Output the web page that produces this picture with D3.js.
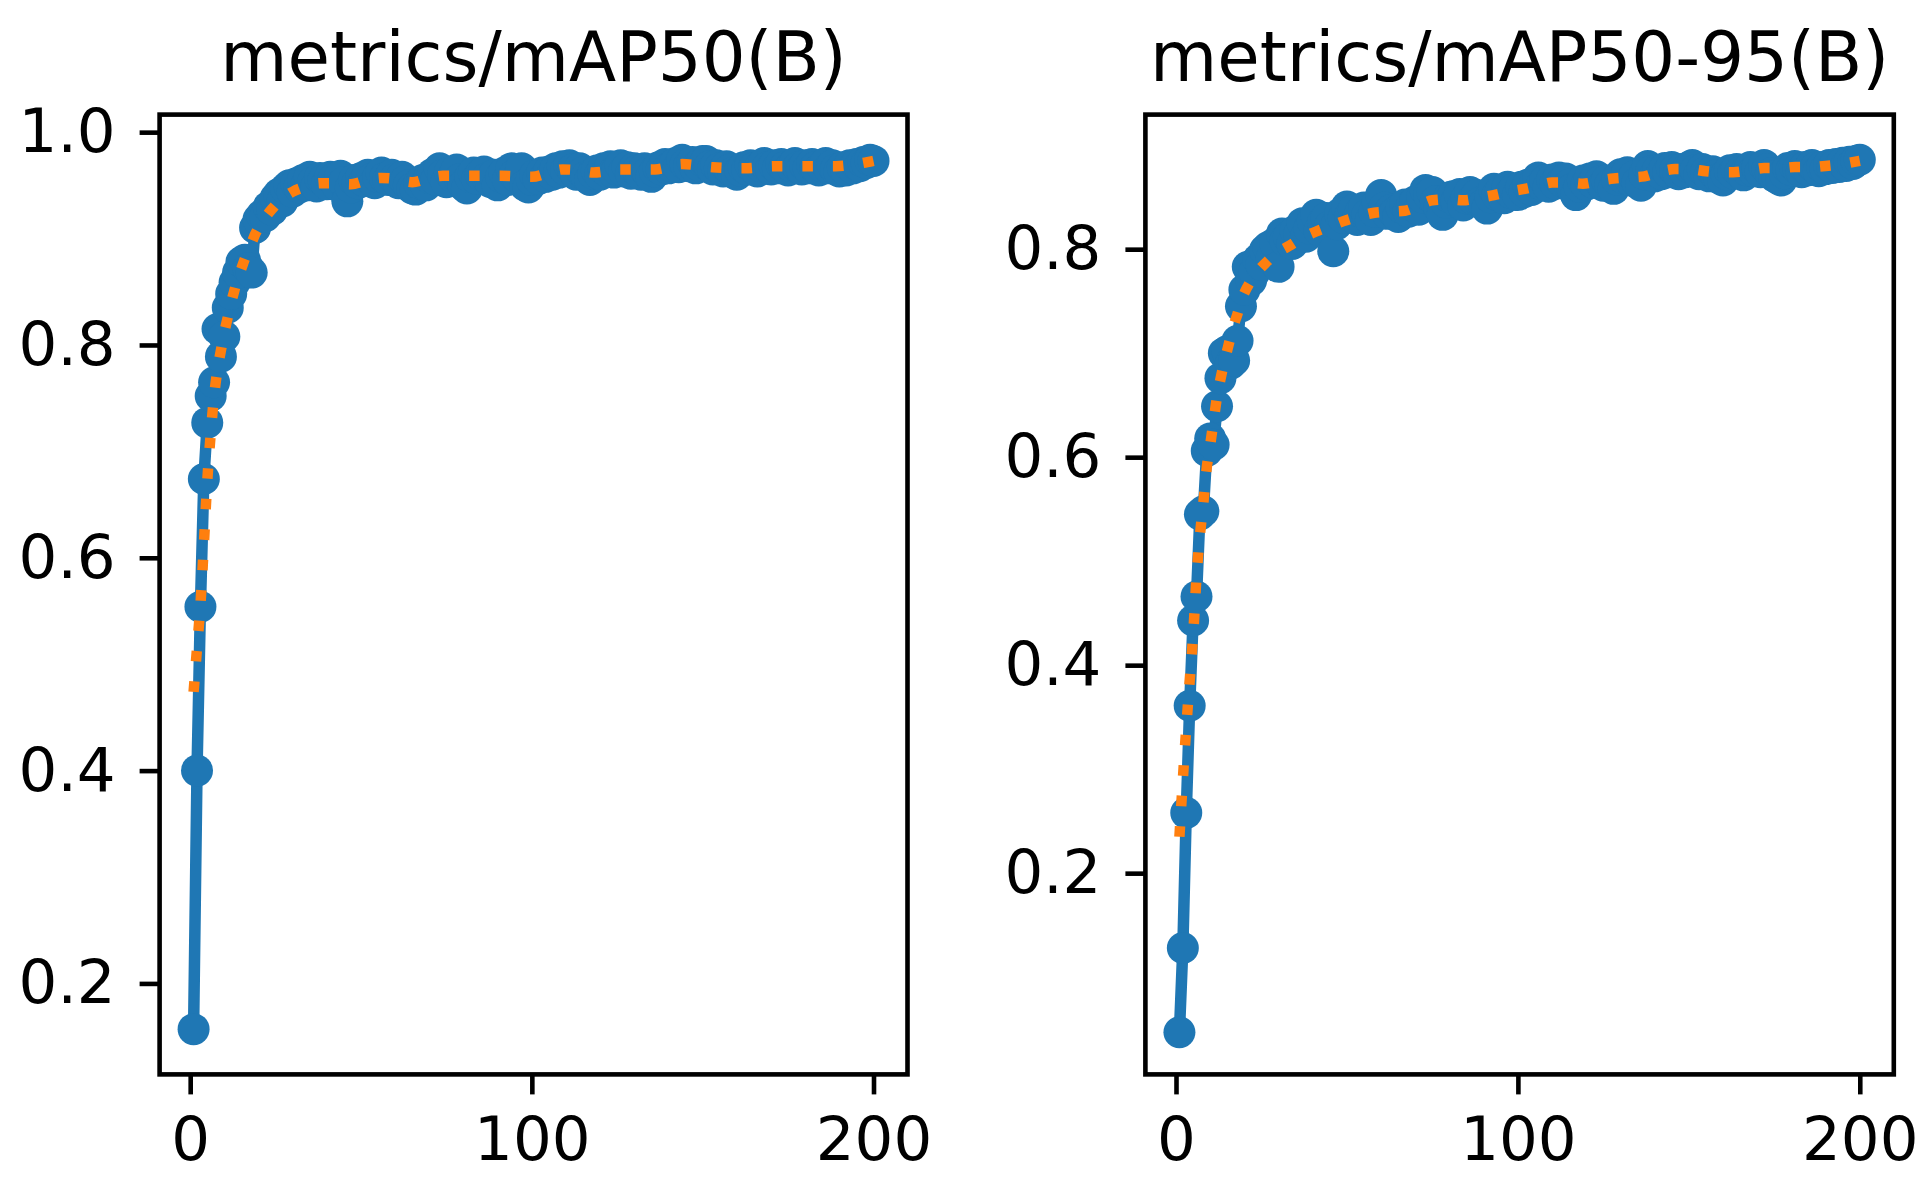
<!DOCTYPE html>
<html lang="en">
<head>
  <meta charset="UTF-8">
  <title>metrics</title>
  <style>
    body { margin: 0; background: #fff; }
    text { font-family: "DejaVu Sans", sans-serif; }
  </style>
</head>
<body>
  <div id="chart"></div>
  <script src="https://d3js.org/d3.v7.min.js"></script>
  <script>
    // epochs 1..200
    const epochs = d3.range(1, 201)

    // metrics/mAP50(B), raw per epoch
    const map50 = [
      0.157, 0.400, 0.554, 0.674, 0.727, 0.752, 0.765, 0.815, 0.789, 0.808,
      0.835, 0.848, 0.859, 0.868, 0.878, 0.880, 0.872, 0.868, 0.910, 0.918,
      0.922, 0.921, 0.930, 0.927, 0.938, 0.942, 0.935, 0.947, 0.950, 0.944,
      0.952, 0.948, 0.955, 0.950, 0.958, 0.953, 0.949, 0.957, 0.955, 0.951,
      0.958, 0.956, 0.950, 0.959, 0.953, 0.935, 0.948, 0.955, 0.952, 0.957,
      0.954, 0.960, 0.956, 0.952, 0.958, 0.962, 0.957, 0.955, 0.960, 0.956,
      0.952, 0.958, 0.954, 0.950, 0.947, 0.946, 0.952, 0.955, 0.950, 0.957,
      0.961, 0.955, 0.966, 0.960, 0.953, 0.962, 0.958, 0.965, 0.956, 0.950,
      0.947, 0.958, 0.962, 0.956, 0.960, 0.963, 0.957, 0.953, 0.960, 0.950,
      0.958, 0.962, 0.955, 0.966, 0.960, 0.957, 0.966, 0.950, 0.948, 0.955,
      0.960, 0.956, 0.962, 0.958, 0.963, 0.960, 0.966, 0.962, 0.968, 0.964,
      0.969, 0.965, 0.960, 0.966, 0.962, 0.958, 0.955, 0.961, 0.964, 0.960,
      0.966, 0.963, 0.968, 0.962, 0.965, 0.969, 0.963, 0.967, 0.961, 0.966,
      0.964, 0.960, 0.966, 0.962, 0.958, 0.963, 0.967, 0.965, 0.970, 0.966,
      0.968, 0.971, 0.967, 0.974, 0.970, 0.968, 0.972, 0.966, 0.969, 0.973,
      0.973, 0.968, 0.965, 0.969, 0.966, 0.963, 0.968, 0.965, 0.962, 0.960,
      0.964, 0.967, 0.965, 0.969, 0.966, 0.963, 0.968, 0.971, 0.967, 0.965,
      0.969, 0.966, 0.970, 0.967, 0.964, 0.968, 0.971, 0.967, 0.965, 0.969,
      0.966, 0.970, 0.967, 0.964, 0.968, 0.971, 0.966, 0.969, 0.965, 0.963,
      0.967, 0.964, 0.969, 0.966, 0.970, 0.968, 0.972, 0.971, 0.974, 0.973
    ]

    // metrics/mAP50-95(B), raw per epoch
    const map5095 = [
      0.047, 0.128, 0.258, 0.361, 0.443, 0.466, 0.545, 0.548, 0.606, 0.618,
      0.612, 0.649, 0.676, 0.700, 0.702, 0.690, 0.693, 0.712, 0.745, 0.761,
      0.783, 0.770, 0.778, 0.790, 0.785, 0.799, 0.802, 0.792, 0.806, 0.783,
      0.815, 0.808, 0.812, 0.805, 0.818, 0.814, 0.825, 0.812, 0.820, 0.827,
      0.833, 0.818, 0.826, 0.830, 0.822, 0.798, 0.824, 0.834, 0.830, 0.841,
      0.832, 0.838, 0.828, 0.836, 0.840, 0.833, 0.828, 0.836, 0.845, 0.852,
      0.840, 0.834, 0.838, 0.835, 0.831, 0.840, 0.843, 0.836, 0.842, 0.846,
      0.838, 0.850, 0.857, 0.852, 0.855, 0.846, 0.840, 0.833, 0.845, 0.850,
      0.851, 0.846, 0.853, 0.842, 0.849, 0.855, 0.848, 0.852, 0.845, 0.843,
      0.839, 0.850, 0.858, 0.852, 0.856, 0.849, 0.860, 0.854, 0.858, 0.852,
      0.860, 0.855, 0.862, 0.857, 0.864, 0.869, 0.862, 0.866, 0.860, 0.867,
      0.863, 0.869, 0.865, 0.868, 0.862, 0.858, 0.852, 0.860, 0.866, 0.862,
      0.868, 0.864, 0.870, 0.865, 0.861, 0.866, 0.862, 0.858, 0.867, 0.872,
      0.868, 0.874, 0.866, 0.870, 0.864, 0.861, 0.872, 0.880, 0.875, 0.870,
      0.876, 0.872, 0.878, 0.874, 0.879, 0.876, 0.872, 0.877, 0.874, 0.879,
      0.881, 0.876, 0.872, 0.877, 0.874, 0.870, 0.875, 0.871, 0.868, 0.866,
      0.872, 0.876, 0.873, 0.877, 0.874, 0.871, 0.876, 0.879, 0.875, 0.878,
      0.874, 0.881, 0.877, 0.873, 0.870, 0.868, 0.866, 0.873, 0.878, 0.876,
      0.880, 0.877, 0.874, 0.879, 0.876, 0.881, 0.878, 0.875, 0.879, 0.877,
      0.881, 0.878, 0.882, 0.879, 0.883, 0.880, 0.884, 0.882, 0.885, 0.886
    ]

    // smooth curves (read at these epochs)
    const smooth50Epochs = [1, 2, 3, 4, 5, 6, 7, 8, 9, 10, 11, 12, 13, 14, 15, 16, 17, 18, 19, 20, 22, 24, 26, 28, 30, 34, 38, 42, 47, 52, 56, 60, 65, 70, 74, 82, 91, 100, 105, 109, 114, 118, 126, 136, 144, 153, 162, 171, 180, 189, 195, 200]
    const smooth50 = [0.474, 0.515, 0.556, 0.612, 0.672, 0.716, 0.752, 0.777, 0.795, 0.812, 0.826, 0.840, 0.852, 0.864, 0.872, 0.881, 0.889, 0.896, 0.904, 0.910, 0.920, 0.928, 0.935, 0.940, 0.944, 0.949, 0.952, 0.952, 0.951, 0.955, 0.957, 0.956, 0.953, 0.957, 0.959, 0.959, 0.959, 0.958, 0.962, 0.965, 0.964, 0.962, 0.965, 0.965, 0.970, 0.967, 0.966, 0.968, 0.968, 0.968, 0.970, 0.973]

    const smooth5095Epochs = [1, 2, 3, 4, 5, 6, 7, 8, 9, 10, 11, 12, 13, 14, 15, 16, 17, 18, 19, 20, 22, 24, 26, 29, 33, 37, 41, 45, 49, 53, 58, 62, 67, 71, 75, 80, 84, 88, 93, 97, 102, 106, 110, 115, 119, 124, 128, 133, 137, 141, 146, 150, 155, 159, 163, 168, 172, 177, 181, 186, 190, 195, 200]
    const smooth5095 = [0.235, 0.290, 0.340, 0.385, 0.428, 0.485, 0.525, 0.556, 0.590, 0.612, 0.635, 0.658, 0.675, 0.690, 0.703, 0.716, 0.728, 0.738, 0.750, 0.758, 0.770, 0.779, 0.786, 0.795, 0.803, 0.811, 0.817, 0.822, 0.827, 0.831, 0.835, 0.836, 0.837, 0.842, 0.847, 0.848, 0.847, 0.849, 0.852, 0.855, 0.858, 0.861, 0.864, 0.864, 0.863, 0.866, 0.868, 0.869, 0.870, 0.874, 0.877, 0.877, 0.875, 0.874, 0.874, 0.876, 0.878, 0.878, 0.879, 0.879, 0.880, 0.882, 0.885]

    const xTicks = [0, 100, 200]
    const yTicks50 = [0.2, 0.4, 0.6, 0.8, 1.0]
    const yTicks5095 = [0.2, 0.4, 0.6, 0.8]

    const width = 1929
    const height = 1192
    const svg = d3.select('#chart').append('svg').attr('width', width).attr('height', height)
      .style('display', 'block')
    svg.append('rect').attr('width', width).attr('height', height).attr('fill', '#fff')

    const blue = '#1f77b4'
    const orange = '#ff7f0e'

    const panels = [
      { title: 'metrics/mAP50(B)', left: 159.6, right: 907.5, raw: map50, sx: smooth50Epochs, sy: smooth50, yDomain: [0.1145, 1.0165], yTicks: yTicks50 },
      { title: 'metrics/mAP50-95(B)', left: 1145.4, right: 1893.8, raw: map5095, sx: smooth5095Epochs, sy: smooth5095, yDomain: [0.0065, 0.9294], yTicks: yTicks5095 }
    ]
    const plotTop = 114.6
    const plotBottom = 1074.4

    panels.forEach((p, k) => {
      const x = d3.scaleLinear().domain([-8.95, 209.95]).range([p.left, p.right])
      const y = d3.scaleLinear().domain(p.yDomain).range([plotBottom, plotTop])
      const g = svg.append('g')

      const clipId = 'clip' + k
      g.append('clipPath').attr('id', clipId).append('rect')
        .attr('x', p.left).attr('y', plotTop).attr('width', p.right - p.left).attr('height', plotBottom - plotTop)

      const plot = g.append('g').attr('clip-path', `url(#${clipId})`)
      const line = d3.line().x((d, i) => x(epochs[i])).y(d => y(d))
      plot.append('path').datum(p.raw).attr('d', line)
        .attr('fill', 'none').attr('stroke', blue).attr('stroke-width', 11.5).attr('stroke-linejoin', 'round')
      plot.selectAll('circle').data(p.raw).enter().append('circle')
        .attr('cx', (d, i) => x(epochs[i])).attr('cy', d => y(d)).attr('r', 16).attr('fill', blue)

      const sLine = d3.line().x((d, i) => x(p.sx[i])).y(d => y(d)).curve(d3.curveMonotoneX)
      plot.append('path').datum(p.sy).attr('d', sLine)
        .attr('fill', 'none').attr('stroke', orange).attr('stroke-width', 10.5)
        .attr('stroke-dasharray', '10.5,20')

      const xAxis = d3.axisBottom(x).tickValues(xTicks).tickFormat(d3.format('d')).tickSize(20).tickPadding(22)
      const gx = g.append('g').attr('transform', `translate(0,${plotBottom})`).call(xAxis)
      const yAxis = d3.axisLeft(y).tickValues(p.yTicks).tickFormat(d3.format('.1f')).tickSize(20).tickPadding(24)
      const gy = g.append('g').attr('transform', `translate(${p.left},0)`).call(yAxis)
      ;[gx, gy].forEach(a => {
        a.select('.domain').remove()
        a.selectAll('line').attr('stroke', '#000').attr('stroke-width', 4.6)
        a.selectAll('text').attr('fill', '#000').style('font-size', '61px').style('font-family', '"DejaVu Sans", sans-serif')
      })

      g.append('rect').attr('x', p.left).attr('y', plotTop).attr('width', p.right - p.left).attr('height', plotBottom - plotTop)
        .attr('fill', 'none').attr('stroke', '#000').attr('stroke-width', 4.6)

      g.append('text').attr('x', (p.left + p.right) / 2).attr('y', 81)
        .attr('text-anchor', 'middle').style('font-size', '69px').attr('fill', '#000')
        .text(p.title)
    })
  </script>
</body>
</html>
